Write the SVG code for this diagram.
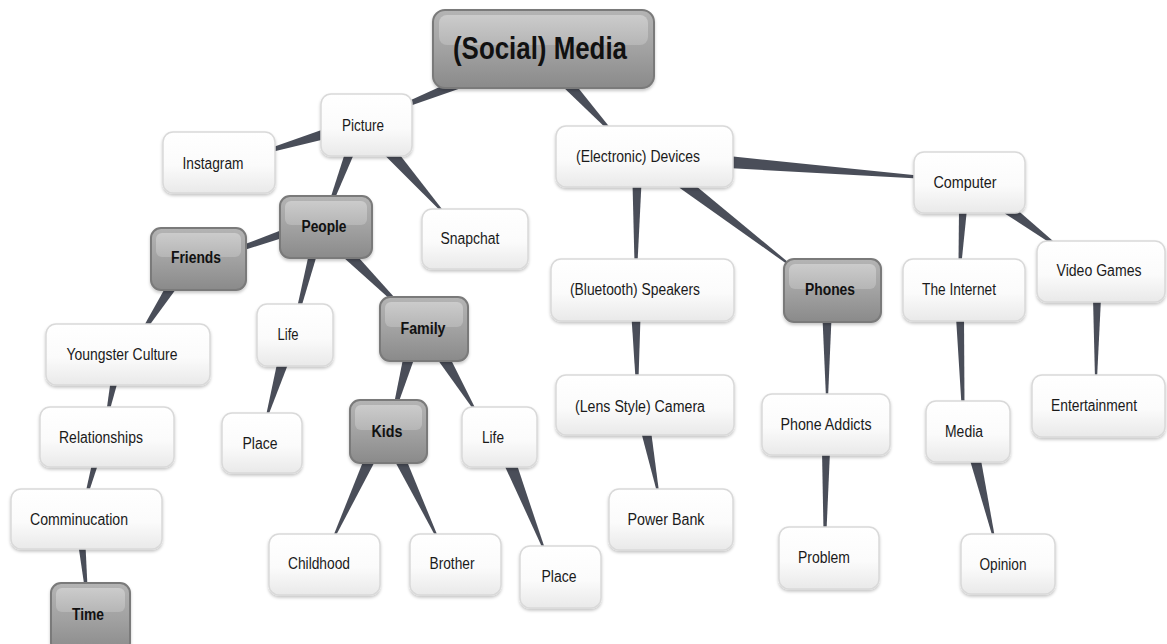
<svg xmlns="http://www.w3.org/2000/svg" width="1167" height="644" viewBox="0 0 1167 644">
  <defs>
    <linearGradient id="gWhite" x1="0" y1="0" x2="0" y2="1">
      <stop offset="0" stop-color="#ffffff"/>
      <stop offset="0.55" stop-color="#fbfbfb"/>
      <stop offset="1" stop-color="#e9e9e9"/>
    </linearGradient>
    <linearGradient id="gGray" x1="0" y1="0" x2="0" y2="1">
      <stop offset="0" stop-color="#b4b4b4"/>
      <stop offset="0.5" stop-color="#a2a2a2"/>
      <stop offset="1" stop-color="#8a8a8a"/>
    </linearGradient>
    <linearGradient id="gShine" x1="0" y1="0" x2="0" y2="1">
      <stop offset="0" stop-color="#d2d2d2"/>
      <stop offset="1" stop-color="#bababa"/>
    </linearGradient>
    <filter id="shadow" x="-10%" y="-10%" width="120%" height="130%">
      <feDropShadow dx="0" dy="2" stdDeviation="1.6" flood-color="#000" flood-opacity="0.22"/>
    </filter>
  </defs>
  <style>
    .edge { fill: #4a4e59; }
    .box { fill: url(#gWhite); stroke: #d9d9d9; stroke-width: 1.5; filter: url(#shadow); }
    .hub { fill: url(#gGray); stroke: #7a7a7a; stroke-width: 2; filter: url(#shadow); }
    .shine { fill: url(#gShine); opacity: 0.8; }
    .lbl { font-family: "Liberation Sans", Arial, sans-serif; font-size: 16px; fill: #1a1a1a; text-anchor: middle; }
    .hlbl { font-family: "Liberation Sans", Arial, sans-serif; font-size: 16px; font-weight: bold; fill: #111; text-anchor: middle; }
    .root { font-family: "Liberation Sans", Arial, sans-serif; font-size: 32px; font-weight: bold; fill: #111; text-anchor: middle; }
  </style>

  <rect width="1167" height="644" fill="#ffffff"/>

  <!-- tapered links: wide at the parent, narrow at the child -->
  <g id="connectors">
    <polygon class="edge" points="456.1,79.4 407.1,101.7 408.9,106.3 459.9,88.6"/>
    <polygon class="edge" points="563.9,87.7 608.9,131.0 611.1,129.0 572.1,80.3"/>
    <polygon class="edge" points="323.6,129.2 270.4,148.1 271.6,151.9 326.4,138.8"/>
    <polygon class="edge" points="345.8,150.4 330.1,199.3 333.9,200.7 354.2,153.6"/>
    <polygon class="edge" points="385.5,156.0 442.3,212.7 443.7,211.3 394.5,148.0"/>
    <polygon class="edge" points="283.7,229.2 241.2,245.6 242.8,250.4 286.3,236.8"/>
    <polygon class="edge" points="309.1,253.0 297.1,307.5 300.9,308.5 316.9,255.0"/>
    <polygon class="edge" points="344.1,257.9 392.6,301.4 395.4,298.6 351.9,250.1"/>
    <polygon class="edge" points="167.8,283.3 143.3,326.9 146.7,329.1 176.2,288.7"/>
    <polygon class="edge" points="110.6,381.3 106.5,410.7 109.5,411.3 117.4,382.7"/>
    <polygon class="edge" points="92.1,463.2 85.6,492.6 88.4,493.4 97.9,464.8"/>
    <polygon class="edge" points="78.5,546.3 84.5,587.1 87.5,586.9 85.5,545.7"/>
    <polygon class="edge" points="277.7,360.4 266.0,415.7 268.0,416.3 288.3,363.6"/>
    <polygon class="edge" points="403.7,355.5 394.1,403.5 397.9,404.5 414.3,358.5"/>
    <polygon class="edge" points="437.9,360.1 474.1,410.5 475.9,409.5 448.1,353.9"/>
    <polygon class="edge" points="365.0,456.7 333.1,536.6 334.9,537.4 375.0,461.3"/>
    <polygon class="edge" points="395.0,461.4 436.1,537.4 437.9,536.6 405.0,456.6"/>
    <polygon class="edge" points="504.4,465.2 543.1,549.4 544.9,548.6 515.6,460.8"/>
    <polygon class="edge" points="632.5,183 634.5,263 637.5,263 641.5,183"/>
    <polygon class="edge" points="679.4,187.8 789.4,265.8 790.6,264.2 686.7,178.2"/>
    <polygon class="edge" points="727.5,168.0 917.9,178.5 918.1,175.5 728.5,156.0"/>
    <polygon class="edge" points="631.5,317 635.5,379 638.5,379 640.5,317"/>
    <polygon class="edge" points="641.1,432.0 657.0,492.2 659.0,491.8 650.9,430.0"/>
    <polygon class="edge" points="822.5,318 826,398 828,398 831.5,318"/>
    <polygon class="edge" points="822,451 823.5,531 826.5,531 830,451"/>
    <polygon class="edge" points="959,209 958.5,263 961.5,263 967,209"/>
    <polygon class="edge" points="1004.7,213.4 1052.1,244.2 1053.9,241.8 1011.3,204.6"/>
    <polygon class="edge" points="956,317 961.5,405 964.5,405 964,317"/>
    <polygon class="edge" points="1093,298 1095,379 1097,379 1101,298"/>
    <polygon class="edge" points="969.7,459.3 993.0,538.2 995.0,537.8 980.4,456.7"/>
  </g>

  <!-- central topic -->
  <g id="n-social-media">
    <rect class="hub" x="433" y="10" width="221" height="78" rx="12"/>
    <rect class="shine" x="439" y="15" width="209" height="30" rx="8"/>
    <text class="root" x="540" y="59" textLength="174" lengthAdjust="spacingAndGlyphs">(Social) Media</text>
  </g>

  <!-- left branch -->
  <g id="n-picture">
    <rect class="box" x="321" y="94" width="91" height="62" rx="10"/>
    <text class="lbl" x="363" y="131" textLength="42" lengthAdjust="spacingAndGlyphs">Picture</text>
  </g>
  <g id="n-instagram">
    <rect class="box" x="163" y="132" width="112" height="61" rx="10"/>
    <text class="lbl" x="213" y="169" textLength="61" lengthAdjust="spacingAndGlyphs">Instagram</text>
  </g>
  <g id="n-snapchat">
    <rect class="box" x="422" y="209" width="106" height="60" rx="10"/>
    <text class="lbl" x="470" y="244" textLength="59" lengthAdjust="spacingAndGlyphs">Snapchat</text>
  </g>
  <g id="n-people">
    <rect class="hub" x="280" y="196" width="92" height="62" rx="10"/>
    <rect class="shine" x="285" y="201" width="82" height="24" rx="6"/>
    <text class="hlbl" x="324" y="232" textLength="45" lengthAdjust="spacingAndGlyphs">People</text>
  </g>
  <g id="n-friends">
    <rect class="hub" x="151" y="228" width="95" height="62" rx="10"/>
    <rect class="shine" x="156" y="233" width="85" height="24" rx="6"/>
    <text class="hlbl" x="196" y="263" textLength="50" lengthAdjust="spacingAndGlyphs">Friends</text>
  </g>
  <g id="n-youngster-culture">
    <rect class="box" x="46" y="324" width="164" height="61" rx="10"/>
    <text class="lbl" x="122" y="360" textLength="111" lengthAdjust="spacingAndGlyphs">Youngster Culture</text>
  </g>
  <g id="n-relationships">
    <rect class="box" x="40" y="407" width="134" height="60" rx="10"/>
    <text class="lbl" x="101" y="443" textLength="84" lengthAdjust="spacingAndGlyphs">Relationships</text>
  </g>
  <g id="n-comminucation">
    <rect class="box" x="11" y="489" width="151" height="60" rx="10"/>
    <text class="lbl" x="79" y="525" textLength="98" lengthAdjust="spacingAndGlyphs">Comminucation</text>
  </g>
  <g id="n-time">
    <rect class="hub" x="51" y="583" width="79" height="70" rx="10"/>
    <rect class="shine" x="56" y="588" width="69" height="24" rx="6"/>
    <text class="hlbl" x="88" y="620" textLength="32" lengthAdjust="spacingAndGlyphs">Time</text>
  </g>
  <g id="n-life-1">
    <rect class="box" x="257" y="304" width="76" height="62" rx="10"/>
    <text class="lbl" x="288" y="340" textLength="21" lengthAdjust="spacingAndGlyphs">Life</text>
  </g>
  <g id="n-place-1">
    <rect class="box" x="222" y="413" width="80" height="60" rx="10"/>
    <text class="lbl" x="260" y="449" textLength="35" lengthAdjust="spacingAndGlyphs">Place</text>
  </g>
  <g id="n-family">
    <rect class="hub" x="380" y="297" width="88" height="64" rx="10"/>
    <rect class="shine" x="385" y="302" width="78" height="25" rx="6"/>
    <text class="hlbl" x="423" y="334" textLength="45" lengthAdjust="spacingAndGlyphs">Family</text>
  </g>
  <g id="n-kids">
    <rect class="hub" x="350" y="400" width="77" height="63" rx="10"/>
    <rect class="shine" x="355" y="405" width="67" height="25" rx="6"/>
    <text class="hlbl" x="387" y="437" textLength="31" lengthAdjust="spacingAndGlyphs">Kids</text>
  </g>
  <g id="n-life-2">
    <rect class="box" x="462" y="407" width="75" height="60" rx="10"/>
    <text class="lbl" x="493" y="443" textLength="22" lengthAdjust="spacingAndGlyphs">Life</text>
  </g>
  <g id="n-childhood">
    <rect class="box" x="269" y="534" width="111" height="61" rx="10"/>
    <text class="lbl" x="319" y="569" textLength="62" lengthAdjust="spacingAndGlyphs">Childhood</text>
  </g>
  <g id="n-brother">
    <rect class="box" x="410" y="534" width="91" height="61" rx="10"/>
    <text class="lbl" x="452" y="569" textLength="45" lengthAdjust="spacingAndGlyphs">Brother</text>
  </g>
  <g id="n-place-2">
    <rect class="box" x="520" y="546" width="81" height="62" rx="10"/>
    <text class="lbl" x="559" y="582" textLength="35" lengthAdjust="spacingAndGlyphs">Place</text>
  </g>

  <!-- right branch -->
  <g id="n-devices">
    <rect class="box" x="556" y="126" width="177" height="61" rx="10"/>
    <text class="lbl" x="638" y="162" textLength="124" lengthAdjust="spacingAndGlyphs">(Electronic) Devices</text>
  </g>
  <g id="n-computer">
    <rect class="box" x="914" y="152" width="111" height="61" rx="10"/>
    <text class="lbl" x="965" y="188" textLength="63" lengthAdjust="spacingAndGlyphs">Computer</text>
  </g>
  <g id="n-speakers">
    <rect class="box" x="551" y="259" width="183" height="62" rx="10"/>
    <text class="lbl" x="635" y="295" textLength="130" lengthAdjust="spacingAndGlyphs">(Bluetooth) Speakers</text>
  </g>
  <g id="n-phones">
    <rect class="hub" x="784" y="259" width="97" height="63" rx="10"/>
    <rect class="shine" x="789" y="264" width="87" height="25" rx="6"/>
    <text class="hlbl" x="830" y="295" textLength="50" lengthAdjust="spacingAndGlyphs">Phones</text>
  </g>
  <g id="n-camera">
    <rect class="box" x="556" y="375" width="178" height="60" rx="10"/>
    <text class="lbl" x="640" y="412" textLength="130" lengthAdjust="spacingAndGlyphs">(Lens Style) Camera</text>
  </g>
  <g id="n-phone-addicts">
    <rect class="box" x="762" y="394" width="128" height="61" rx="10"/>
    <text class="lbl" x="826" y="430" textLength="91" lengthAdjust="spacingAndGlyphs">Phone Addicts</text>
  </g>
  <g id="n-power-bank">
    <rect class="box" x="609" y="489" width="124" height="61" rx="10"/>
    <text class="lbl" x="666" y="525" textLength="77" lengthAdjust="spacingAndGlyphs">Power Bank</text>
  </g>
  <g id="n-problem">
    <rect class="box" x="779" y="527" width="100" height="62" rx="10"/>
    <text class="lbl" x="824" y="563" textLength="52" lengthAdjust="spacingAndGlyphs">Problem</text>
  </g>
  <g id="n-internet">
    <rect class="box" x="903" y="259" width="122" height="62" rx="10"/>
    <text class="lbl" x="959" y="295" textLength="74" lengthAdjust="spacingAndGlyphs">The Internet</text>
  </g>
  <g id="n-video-games">
    <rect class="box" x="1037" y="241" width="128" height="61" rx="10"/>
    <text class="lbl" x="1099" y="276" textLength="85" lengthAdjust="spacingAndGlyphs">Video Games</text>
  </g>
  <g id="n-media">
    <rect class="box" x="926" y="401" width="84" height="61" rx="10"/>
    <text class="lbl" x="964" y="437" textLength="38" lengthAdjust="spacingAndGlyphs">Media</text>
  </g>
  <g id="n-entertainment">
    <rect class="box" x="1032" y="375" width="133" height="62" rx="10"/>
    <text class="lbl" x="1094" y="411" textLength="86" lengthAdjust="spacingAndGlyphs">Entertainment</text>
  </g>
  <g id="n-opinion">
    <rect class="box" x="961" y="534" width="94" height="60" rx="10"/>
    <text class="lbl" x="1003" y="570" textLength="47" lengthAdjust="spacingAndGlyphs">Opinion</text>
  </g>
</svg>
